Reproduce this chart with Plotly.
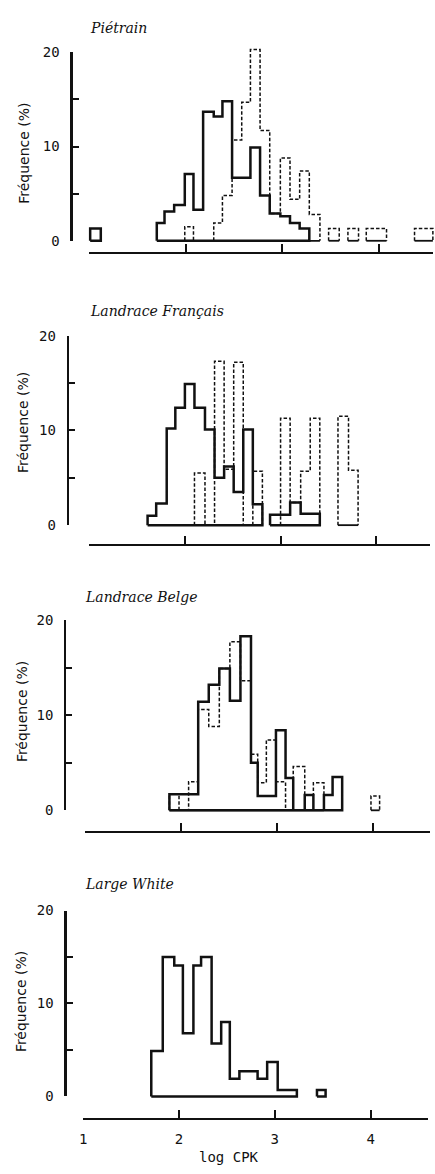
import plotly.graph_objects as go

W, H = 435, 1174

# ---------------- data ----------------
panel_titles = ["Piétrain", "Landrace Français", "Landrace Belge", "Large White"]
x_tick_values = [1, 2, 3, 4]
x_tick_labels = ["1", "2", "3", "4"]
y_tick_values = [0, 5, 10, 15, 20]
y_tick_labels = ["0", "", "10", "", "20"]
x_title = "log CPK"
y_title = "Fréquence (%)"

# bin boundaries (log CPK) and class frequencies (%); None = no bar drawn
pietrain_edges = [1.01, 1.12, 1.70, 1.78, 1.88, 1.99, 2.08, 2.18, 2.29, 2.38, 2.48,
                  2.58, 2.67, 2.77, 2.87, 2.98, 3.08, 3.18, 3.28, 3.39, 3.48, 3.59,
                  3.68, 3.79, 3.87, 3.98, 4.08, 4.37, 4.46, 4.56]
pietrain_solid = [1.3, None, 1.9, 3.1, 3.8, 7.1, 3.3, 13.7, 13.2, 14.8, 6.7, 6.7,
                  9.9, 4.8, 2.9, 2.6, 1.9, 1.3, None, None, None, None, None, None,
                  None, None, None, None, None]
pietrain_dashed = [None, None, None, None, None, 1.5, None, None, 1.9, 4.8, 10.7,
                   14.7, 20.3, 11.7, 2.9, 8.8, 4.4, 7.4, 2.8, None, 1.3, None, 1.3,
                   None, 1.3, 1.3, None, 1.3, 1.3]

lf_edges = [1.61, 1.70, 1.81, 1.90, 2.00, 2.10, 2.21, 2.31, 2.41, 2.51, 2.61, 2.71,
            2.81, 2.89, 3.00, 3.10, 3.21, 3.31, 3.41, 3.60, 3.71, 3.81]
lf_solid = [1.0, 2.3, 10.2, 12.4, 14.9, 12.4, 10.1, 5.0, 6.2, 3.5, 10.1, 2.2, None,
            1.1, 1.1, 2.4, 1.2, 1.2, None, None, None]
lf_dashed = [None, None, None, None, None, 5.5, 0, 17.3, 5.9, 17.2, 0, 5.7, None,
             None, 11.3, 2.4, 5.7, 11.3, None, 11.5, 5.8]

lb_edges = [1.88, 1.98, 2.08, 2.18, 2.29, 2.40, 2.51, 2.62, 2.73, 2.80, 2.89, 2.99,
            3.09, 3.17, 3.29, 3.38, 3.49, 3.58, 3.68, 3.98, 4.07]
lb_solid = [1.7, 1.7, 1.7, 11.4, 13.2, 14.9, 11.5, 18.3, 5.0, 1.5, 1.5, 8.4, 3.4, 0,
            1.6, 0, 1.6, 3.5, None, None]
lb_dashed = [1.7, 0, 3.0, 10.6, 8.8, 14.9, 17.7, 13.6, 5.9, 2.9, 7.4, 3.0, 0, 4.6,
             1.6, 2.9, None, None, None, 1.5]

lw_edges = [1.71, 1.83, 1.95, 2.04, 2.15, 2.23, 2.34, 2.44, 2.53, 2.63, 2.72, 2.82,
            2.92, 3.03, 3.13, 3.23, 3.44, 3.53]
lw_solid = [4.9, 15.0, 14.1, 6.8, 14.1, 15.0, 5.7, 8.0, 1.9, 2.7, 2.7, 1.9, 3.7, 0.7,
            0.7, None, 0.7]
lw_dashed = [None] * len(lw_solid)

panel_edges = [pietrain_edges, lf_edges, lb_edges, lw_edges]
panel_solid = [pietrain_solid, lf_solid, lb_solid, lw_solid]
panel_dashed = [pietrain_dashed, lf_dashed, lb_dashed, lw_dashed]

# ---------------- layout geometry (pixels) ----------------
# p1: px of x=1, s: px per unit, pend: px of x-axis end, py0: px of y=0, k: px per %
geom = [
    dict(p1=86.0, s=97.43, pend=433.0, py0=236.0, k=9.55, xline=248, yline=68.0,
         title=(85, 20), ylab=(20, 147)),
    dict(p1=86.0, s=96.57, pend=430.0, py0=524.3, k=9.6, xline=544, yline=64.3,
         title=(85, 307), ylab=(19, 420)),
    dict(p1=81.7, s=96.87, pend=430.0, py0=813.4, k=9.65, xline=835, yline=61.7,
         title=(80, 597), ylab=(18, 713)),
    dict(p1=80.0, s=96.67, pend=428.3, py0=1103.5, k=9.425, xline=1126, yline=62.0,
         title=(80, 888), ylab=(17, 1007)),
]

INK = "#111111"
MONO = "DejaVu Sans Mono"


def step_paths(edges, heights, closed):
    xs, ys, bx, by = [], [], [], []
    n = len(heights)
    i = 0
    while i < n:
        if heights[i] is None:
            i += 1
            continue
        j = i
        while j + 1 < n and heights[j + 1] is not None:
            j += 1
        px, py = [edges[i]], [0]
        for b in range(i, j + 1):
            px += [edges[b], edges[b + 1]]
            py += [heights[b], heights[b]]
        px.append(edges[j + 1])
        py.append(0)
        if closed:
            px.append(edges[i])
            py.append(0)
        else:
            bx += [edges[i], edges[j + 1], None]
            by += [0, 0, None]
        xs += px + [None]
        ys += py + [None]
        i = j + 1
    return xs, ys, bx, by


fig = go.Figure()
layout = {}
annotations = []

for p in range(4):
    g = geom[p]
    dn = 2 * p + 1   # data axes
    vn = 2 * p + 2   # visible axes
    dx, dy = f"x{dn}", f"y{dn}"
    vx, vy = f"x{vn}", f"y{vn}"
    kx = lambda n: "xaxis" if n == 1 else f"xaxis{n}"
    ky = lambda n: "yaxis" if n == 1 else f"yaxis{n}"

    layout[kx(dn)] = dict(domain=[0, 1], range=[1 - g["p1"] / g["s"], 1 + (W - g["p1"]) / g["s"]],
                          visible=False, anchor=dy)
    layout[ky(dn)] = dict(domain=[0, 1], range=[(g["py0"] - H) / g["k"], g["py0"] / g["k"]],
                          visible=False, anchor=dx)

    xend = 1 + (g["pend"] - g["p1"]) / g["s"]
    last = p == 3
    layout[kx(vn)] = dict(
        domain=[g["p1"] / W, g["pend"] / W], range=[1, xend], anchor="free",
        position=1 - g["xline"] / H, showline=True, linecolor=INK, linewidth=2,
        ticks="inside", ticklen=8, tickwidth=2, tickcolor=INK,
        tickvals=x_tick_values + [xend], ticktext=x_tick_labels + [""],
        showticklabels=last, ticklabelstandoff=8,
        tickfont=dict(family=MONO, size=14, color=INK),
        showgrid=False, zeroline=False, fixedrange=True)
    layout[ky(vn)] = dict(
        domain=[1 - g["py0"] / H, 1 - (g["py0"] - 20 * g["k"]) / H], range=[0, 20],
        anchor="free", position=g["yline"] / W, showline=True, linecolor=INK, linewidth=2.2,
        ticks="inside", ticklen=6, tickwidth=2, tickcolor=INK,
        tickvals=y_tick_values, ticktext=y_tick_labels, ticklabelstandoff=8,
        tickfont=dict(family=MONO, size=14, color=INK),
        showgrid=False, zeroline=False, fixedrange=True)

    fig.add_trace(go.Scatter(x=[None], y=[None], xaxis=vx, yaxis=vy, mode="lines",
                             showlegend=False, hoverinfo="skip"))

    edges = panel_edges[p]
    xs, ys, bx, by = step_paths(edges, panel_dashed[p], closed=False)
    if xs:
        fig.add_trace(go.Scatter(x=bx, y=by, xaxis=dx, yaxis=dy, mode="lines",
                                 line=dict(color=INK, width=1.8), showlegend=False,
                                 hoverinfo="skip"))
        fig.add_trace(go.Scatter(x=xs, y=ys, xaxis=dx, yaxis=dy, mode="lines",
                                 line=dict(color=INK, width=1.5, dash="3.5px,2px"),
                                 showlegend=False, hoverinfo="skip"))
    xs, ys, _, _ = step_paths(edges, panel_solid[p], closed=True)
    fig.add_trace(go.Scatter(x=xs, y=ys, xaxis=dx, yaxis=dy, mode="lines",
                             line=dict(color=INK, width=2.5), showlegend=False,
                             hoverinfo="skip"))

    annotations.append(dict(
        text=f"<i>{panel_titles[p]}</i>", xref="paper", yref="paper",
        x=g["title"][0] / W, y=1 - g["title"][1] / H, xanchor="left", yanchor="middle",
        showarrow=False, font=dict(family="DejaVu Serif", size=14, color=INK)))
    annotations.append(dict(
        text=y_title, xref="paper", yref="paper", textangle=-90,
        x=g["ylab"][0] / W, y=1 - g["ylab"][1] / H, xanchor="center", yanchor="middle",
        showarrow=False, font=dict(family="DejaVu Sans", size=14, color=INK)))

annotations.append(dict(
    text=x_title, xref="paper", yref="paper", x=227 / W, y=1 - 1165 / H,
    xanchor="center", yanchor="middle", showarrow=False,
    font=dict(family=MONO, size=14, color=INK)))

fig.update_layout(
    width=W, height=H, autosize=False,
    margin=dict(l=0, r=0, t=0, b=0, pad=0),
    paper_bgcolor="white", plot_bgcolor="rgba(0,0,0,0)",
    showlegend=False, annotations=annotations, **layout)

fig.write_html(
    "out.html",
    config={"displayModeBar": False, "staticPlot": True},
    post_script="document.body.style.margin='0px';document.body.style.overflow='hidden';",
)
